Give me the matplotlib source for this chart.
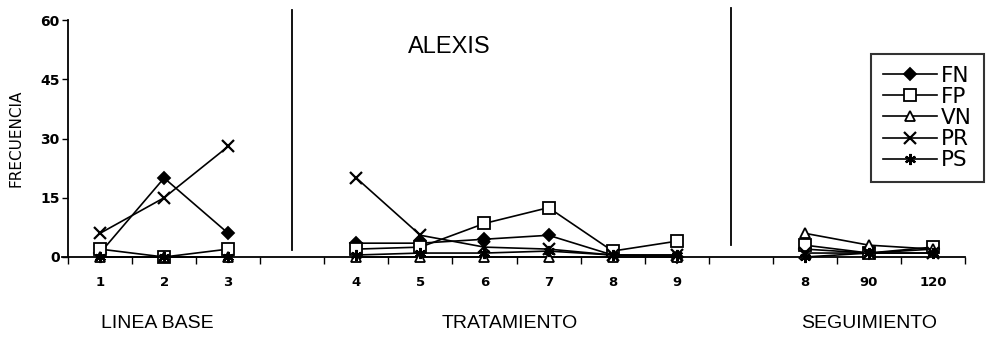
import numpy as np
import matplotlib
matplotlib.use("Agg")
import matplotlib.pyplot as plt

nan = np.nan
# slot labels (14 slots; blank slots separate the phases)
tick_labels = ["1", "2", "3", "", "4", "5", "6", "7", "8", "9", "", "8", "90", "120"]
series_names = ["FN", "FP", "VN", "PR", "PS"]
FN = [1, 20, 6, nan, 3.5, 3.5, 4.5, 5.5, 0.5, 0, nan, 2, 1, 2]
FP = [2, 0, 2, nan, 2, 2.5, 8.5, 12.5, 1.5, 4, nan, 3, 1, 2.5]
VN = [0, 0, 0, nan, 0, 0, 0, 0, 0, 0, nan, 6, 3, 2]
PR = [6, 15, 28, nan, 20, 5.5, 2.5, 2, 0.5, 0.5, nan, 1, 1, 1]
PS = [0, 0, 0, nan, 0.5, 1, 1, 1.5, 0.5, 0.5, nan, 0, 1, 1]
yticks = [0, 15, 30, 45, 60]
phases = ["LINEA BASE", "TRATAMIENTO", "SEGUIMIENTO"]
phase_centers = [0.9, 6.4, 12]
dividers = [3, 9.85]
title = "ALEXIS"

fig = plt.figure(figsize=(9.91, 3.37), dpi=100)
ax = fig.add_axes([68/991, 80/337, (965-68)/991, 237/337])
x = np.arange(len(tick_labels))

styles = {
    "FN": dict(marker="D", mfc="black", ms=6),
    "FP": dict(marker="s", mfc="white", ms=8),
    "VN": dict(marker="^", mfc="white", ms=7),
    "PR": dict(marker="x", mfc="black", ms=8, mew=1.6),
    "PS": dict(marker=(6, 2, 0), mfc="black", ms=8, mew=1.6),
}
data = dict(FN=FN, FP=FP, VN=VN, PR=PR, PS=PS)
for name in series_names:
    st = dict(styles[name])
    mew = st.pop("mew", 1.3)
    ax.plot(x, data[name], color="black", lw=1.2, mec="black", mew=mew,
            label=name, clip_on=False, zorder=3, **st)

ax.set_xlim(-0.5, 13.5)
ax.set_ylim(0, 60)
ax.set_yticks(yticks)
ax.set_yticklabels([str(v) for v in yticks], fontsize=10, fontweight="bold")
ax.tick_params(axis="y", direction="out", length=4, width=1, pad=2)

ax.set_xticks(np.arange(-0.5, 14, 1))
ax.set_xticklabels([])
ax.tick_params(axis="x", which="major", direction="out", length=5, width=1)
ax.set_xticks(x, minor=True)
ax.set_xticklabels(tick_labels, minor=True, fontsize=9.5, fontweight="bold")
ax.tick_params(axis="x", which="minor", length=0, pad=14)

for s in ["top", "right"]:
    ax.spines[s].set_visible(False)
ax.spines["left"].set_linewidth(1.3)
ax.spines["bottom"].set_linewidth(1.3)
ax.spines["bottom"].set_bounds(-0.6, 13.5)

for d, (y0, y1) in zip(dividers, [(1.8, 62.5), (3, 63)]):
    ax.plot([d, d], [y0, y1], color="black", lw=1.3, clip_on=False)

ax.set_ylabel("FRECUENCIA", fontsize=11)
ax.yaxis.set_label_coords(-0.05, 0.5)

for name, c in zip(phases, phase_centers):
    ax.text(c, -0.28, name, transform=ax.get_xaxis_transform(), ha="center",
            va="center", fontsize=14, family="Liberation Sans")

ax.text(449/991, 1 - 47/337, title, transform=fig.transFigure, ha="center",
        va="center", fontsize=17, family="Liberation Sans")

leg = ax.legend(loc="upper left", bbox_to_anchor=(871/991, 1 - 54/337),
                bbox_transform=fig.transFigure, frameon=True, fancybox=False,
                edgecolor="black", fontsize=15.5, handlelength=2.5,
                handletextpad=0.2, labelspacing=0.05, borderpad=0.55,
                borderaxespad=0)
leg.get_frame().set_linewidth(1.5)

fig.savefig("out.png", dpi=100)
